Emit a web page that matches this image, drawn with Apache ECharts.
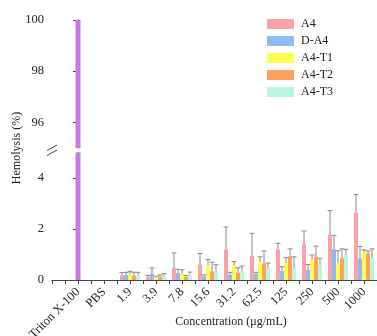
<!DOCTYPE html>
<html>
<head>
<meta charset="utf-8">
<script src="https://cdn.jsdelivr.net/npm/echarts@6/dist/echarts.min.js"></script>
<style>
  html, body { margin: 0; padding: 0; background: #fff; }
  #chart { width: 377px; height: 336px; }
</style>
</head>
<body>
<div id="chart"></div>
<script>
// Categories along the x axis (position index = array index)
const categories = ['Triton X-100', 'PBS', '1.9', '3.9', '7.8', '15.6', '31.2', '62.5', '125', '250', '500', '1000'];
// Concentration groups start at index 2 (1.9 µg/mL)
const concStart = 2;

// Positive control
const tritonValue = 100;

// Mean hemolysis (%) per concentration, 1.9 → 1000 µg/mL
const a4   = [0.18, 0.12, 0.46, 0.61, 1.20, 0.94, 1.20, 1.44, 1.78, 2.64];
const dA4  = [0.20, 0.25, 0.27, 0.14, 0.20, 0.24, 0.35, 0.39, 1.20, 0.84];
const a4T1 = [0.22, 0.10, 0.25, 0.57, 0.58, 0.71, 0.68, 0.78, 0.65, 1.09];
const a4T2 = [0.17, 0.14, 0.12, 0.34, 0.29, 0.65, 0.93, 0.91, 0.85, 1.05];
const a4T3 = [0.18, 0.16, 0.21, 0.32, 0.35, 0.46, 0.50, 0.59, 1.00, 0.85];

// Standard deviations (upper error bars)
const a4Sd   = [0.11, 0.06, 0.60, 0.43, 0.88, 0.89, 0.24, 0.48, 0.94, 0.71];
const dA4Sd  = [0.10, 0.22, 0.15, 0.06, 0.10, 0.06, 0.17, 0.22, 0.55, 0.47];
const a4T1Sd = [0.12, 0.05, 0.15, 0.23, 0.14, 0.20, 0.20, 0.20, 0.50, 0.09];
const a4T2Sd = [0.13, 0.06, 0.06, 0.36, 0.19, 0.49, 0.29, 0.42, 0.37, 0.09];
const a4T3Sd = [0.12, 0.09, 0.10, 0.28, 0.20, 0.20, 0.41, 0.26, 0.20, 0.37];

// Y tick labels for the two segments of the broken axis
const upperTicks = [96, 98, 100];
const lowerTicks = [0, 2, 4];

const seriesNames = ['A4', 'D-A4', 'A4-T1', 'A4-T2', 'A4-T3'];
const seriesMeans = [a4, dA4, a4T1, a4T2, a4T3];
const seriesSds = [a4Sd, dA4Sd, a4T1Sd, a4T2Sd, a4T3Sd];
const seriesColors = ['#f8a3a8', '#8fbaf3', '#ffff4f', '#ffa05e', '#baf5e0'];
const tritonColor = '#c777e5';

const FONT = "'Liberation Serif', 'Times New Roman', serif";
const BAR_W = 4;
const AXIS_COLOR = '#444';
const TEXT_COLOR = '#222';

const chart = echarts.init(document.getElementById('chart'), null, { renderer: 'canvas' });

const xRange = { min: -1, max: 11.5, interval: 0.5 };

const grouped = seriesNames.map((name, k) => ({
  name: name,
  type: 'bar',
  xAxisIndex: 1,
  yAxisIndex: 1,
  barWidth: BAR_W,
  barGap: '0%',
  itemStyle: { color: seriesColors[k] },
  data: seriesMeans[k].map((v, i) => [concStart + i, v])
}));

// error bar items: [x, mean, sd, seriesIndex]
const errData = [];
seriesMeans.forEach((arr, k) => {
  arr.forEach((v, i) => errData.push([concStart + i, v, seriesSds[k][i], k]));
});

const yLabel = { fontFamily: FONT, fontSize: 12.5, color: TEXT_COLOR, margin: 8 };

const option = {
  animation: false,
  backgroundColor: '#fff',
  grid: [
    { left: 52, right: 0, top: 20, height: 128, containLabel: false, outerBoundsMode: 'none' },
    { left: 52, right: 0, top: 152.5, height: 127.5, containLabel: false, outerBoundsMode: 'none' }
  ],
  legend: {
    data: seriesNames,
    orient: 'vertical',
    left: 262,
    top: 13,
    itemWidth: 27,
    itemHeight: 10,
    itemGap: 5,
    icon: 'rect',
    textStyle: { fontFamily: FONT, fontSize: 12, color: TEXT_COLOR, padding: [0, 0, 0, 2] }
  },
  xAxis: [
    Object.assign({ type: 'value', gridIndex: 0, show: false }, xRange),
    Object.assign({
      type: 'value',
      gridIndex: 1,
      splitLine: { show: false },
      axisLine: { lineStyle: { color: AXIS_COLOR, width: 1 } },
      axisTick: { length: 4, lineStyle: { color: AXIS_COLOR } },
      axisLabel: {
        rotate: 45,
        margin: 10,
        fontFamily: FONT,
        fontSize: 12.5,
        color: TEXT_COLOR,
        showMinLabel: true,
        showMaxLabel: true,
        formatter: v => (Number.isInteger(v) && v >= 0 && v < categories.length) ? categories[v] : ''
      }
    }, xRange),
    Object.assign({ type: 'value', gridIndex: 1, show: false }, xRange)
  ],
  yAxis: [
    {
      type: 'value',
      gridIndex: 0,
      min: 95,
      max: 100,
      splitLine: { show: false },
      axisLine: { show: true, lineStyle: { color: AXIS_COLOR } },
      axisTick: { show: true, length: 5, customValues: upperTicks, lineStyle: { color: AXIS_COLOR } },
      axisLabel: Object.assign({ customValues: upperTicks }, yLabel)
    },
    {
      type: 'value',
      gridIndex: 1,
      min: 0,
      max: 5,
      splitLine: { show: false },
      axisLine: { show: true, lineStyle: { color: AXIS_COLOR } },
      axisTick: { show: true, length: 5, customValues: lowerTicks, lineStyle: { color: AXIS_COLOR } },
      axisLabel: Object.assign({ customValues: lowerTicks }, yLabel)
    }
  ],
  series: [
    {
      name: 'Triton X-100',
      type: 'bar',
      xAxisIndex: 0,
      yAxisIndex: 0,
      barWidth: 5,
      itemStyle: { color: tritonColor },
      data: [[0, tritonValue]]
    },
    {
      name: 'Triton X-100 (low)',
      type: 'bar',
      xAxisIndex: 2,
      yAxisIndex: 1,
      barWidth: 5,
      itemStyle: { color: tritonColor },
      data: [[0, tritonValue]]
    },
    ...grouped,
    {
      name: 'error',
      type: 'custom',
      xAxisIndex: 1,
      yAxisIndex: 1,
      silent: true,
      z: 3,
      data: errData,
      renderItem: function (params, api) {
        const x = api.value(0), m = api.value(1), sd = api.value(2), k = api.value(3);
        const dx = (k - 2) * BAR_W;
        const base = api.coord([x, m]);
        const top = api.coord([x, m + sd]);
        const cx = base[0] + dx;
        const style = { stroke: '#8a8a8a', lineWidth: 1 };
        return {
          type: 'group',
          children: [
            { type: 'line', shape: { x1: cx, y1: base[1], x2: cx, y2: top[1] }, style: style },
            { type: 'line', shape: { x1: cx - 2.5, y1: top[1], x2: cx + 2.5, y2: top[1] }, style: style }
          ]
        };
      }
    }
  ],
  graphic: [
    // axis break marks
    { type: 'line', shape: { x1: 47, y1: 150.5, x2: 57, y2: 145 }, style: { stroke: AXIS_COLOR, lineWidth: 1 } },
    { type: 'line', shape: { x1: 47, y1: 155.5, x2: 57, y2: 150 }, style: { stroke: AXIS_COLOR, lineWidth: 1 } },
    {
      type: 'text',
      x: 17, y: 148,
      rotation: Math.PI / 2,
      style: { text: 'Hemolysis (%)', font: '12px ' + FONT, fill: TEXT_COLOR, textAlign: 'center', textVerticalAlign: 'middle' }
    },
    {
      type: 'text',
      x: 231, y: 322,
      style: { text: 'Concentration (μg/mL)', font: '12px ' + FONT, fill: TEXT_COLOR, textAlign: 'center', textVerticalAlign: 'middle' }
    }
  ]
};

chart.setOption(option);
</script>
</body>
</html>
